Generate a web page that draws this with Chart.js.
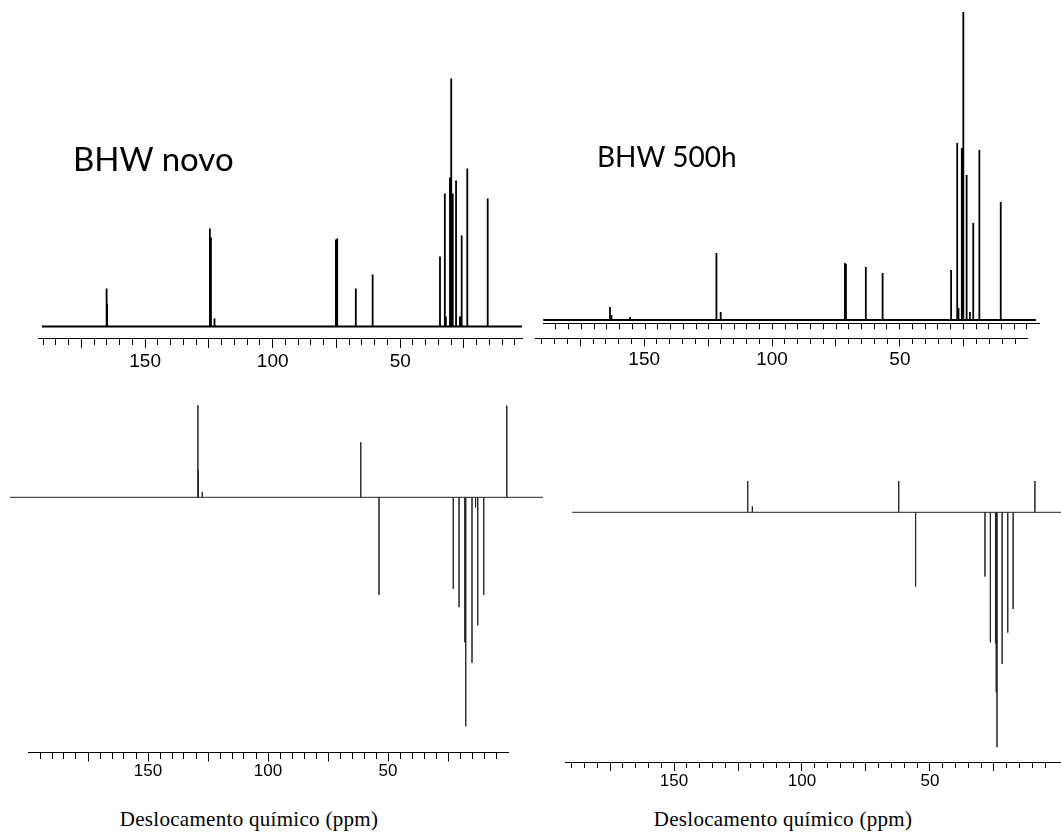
<!DOCTYPE html>
<html>
<head>
<meta charset="utf-8">
<script src="https://cdn.jsdelivr.net/npm/chart.js@4.4.1/dist/chart.umd.min.js"></script>
<style>
html,body{margin:0;padding:0;background:#fff;}
#wrap{position:relative;width:1061px;height:835px;overflow:hidden;background:#fff;}
canvas{position:absolute;}
.lbl{position:absolute;white-space:nowrap;color:#000;line-height:1;}
.name{font-family:Lato,"Open Sans",sans-serif;}
.xt{font-family:"Liberation Serif","Times New Roman",serif;font-size:21px;letter-spacing:0.3px;transform:translate(-50%,-50%);}
</style>
</head>
<body>
<div id="wrap">
  <canvas id="c1" width="540" height="390" style="left:0;top:0"></canvas>
  <canvas id="c2" width="531" height="333" style="left:530px;top:0"></canvas>
  <canvas id="c2b" width="531" height="60" style="left:530px;top:330px"></canvas>
  <canvas id="c3" width="550" height="410" style="left:0;top:380px"></canvas>
  <canvas id="c4" width="511" height="400" style="left:550px;top:400px"></canvas>
  <div class="lbl name" style="left:73px;top:142px;font-size:33px">BHW novo</div>
  <div class="lbl name" style="left:597px;top:142px;font-size:28px">BHW 500h</div>
  <div class="lbl xt" style="left:249px;top:819px">Deslocamento químico (ppm)</div>
  <div class="lbl xt" style="left:783px;top:819px">Deslocamento químico (ppm)</div>
</div>
<script>
// ---- data (chemical shift in ppm, relative intensity) ----
// Top-left: 13C, BHW novo
const NOVO_C13_PPM = [165.1, 164.9, 124.6, 124.2, 122.8, 75.2, 74.7, 67.4, 60.8, 34.4, 32.5, 32.1, 30.5, 30.0, 29.4, 28.1, 26.6, 25.9, 23.7, 15.7];
const NOVO_C13_INT = [38, 23, 98, 89, 8, 87, 88, 38, 52, 70, 133, 10, 149, 248, 133, 146, 10, 91, 158, 128];
// Top-right: 13C, BHW 500h
const H500_C13_PPM = [168.8, 168.2, 160.9, 127.1, 126.9, 125.3, 76.5, 76.1, 68.3, 61.7, 34.8, 32.4, 31.9, 30.6, 30.0, 28.7, 27.4, 26.1, 23.7, 15.3];
const H500_C13_INT = [13, 5, 3, 67, 64, 8, 57, 56, 53, 47, 50, 177, 12, 172, 308, 145, 8, 97, 170, 118];
// Bottom-left: DEPT, BHW novo
const NOVO_DEPT_PPM = [129.2, 129.0, 127.4, 61.4, 61.3, 53.75, 22.8, 20.4, 18.0, 17.6, 15.0, 13.5, 12.6, 10.1, 0.5];
const NOVO_DEPT_INT = [92, 27, 5.5, 55, 17, -97.6, -91.6, -110, -145, -229, -165.6, -10, -128, -97.6, 91.7];
// Bottom-right: DEPT, BHW 500h
const H500_DEPT_PPM = [121.2, 119.4, 62.2, 55.6, 28.5, 26.4, 24.4, 24.1, 23.8, 21.8, 19.6, 17.5, 9.0];
const H500_DEPT_INT = [31.3, 6, 31.3, -74.3, -64.3, -130, -131, -180, -235, -151.7, -120.3, -96.7, 31.3];

const TICK_LABELS = [150, 100, 50];
const MINOR_TICKS = [];
for (let v = 195; v >= 5; v -= 5) MINOR_TICKS.push(v);

// ---- helpers ----
function trace(ppm, inten, from, to) {
  const pts = [{x: from, y: 0}];
  const order = ppm.map((p, i) => i).sort((a, b) => ppm[b] - ppm[a]);
  for (const i of order) {
    pts.push({x: ppm[i], y: 0}, {x: ppm[i], y: inten[i]}, {x: ppm[i], y: 0});
  }
  pts.push({x: to, y: 0});
  return pts;
}

function xAxis(o) {
  return {
    type: 'linear', position: 'bottom', reverse: true, min: o.min, max: o.max,
    afterBuildTicks: s => { s.ticks = MINOR_TICKS.filter(v => v < o.max - 1 && v > o.min).map(v => ({value: v})); },
    afterFit: s => { s.height = o.height; },
    border: {display: true, color: '#000', width: 1},
    grid: {
      display: true, drawOnChartArea: false, drawTicks: true,
      tickLength: o.major, tickWidth: 1, tickColor: '#000',
      tickBorderDash: c => (o.majorEvery && c.tick && c.tick.value % o.majorEvery === 0) ? [] : [o.minor, 200]
    },
    ticks: {
      display: o.labels, autoSkip: false, maxRotation: 0, minRotation: 0, padding: o.pad || 0, color: '#000',
      font: {family: '"Liberation Sans", Arial, Helvetica, sans-serif', size: o.size || 18},
      callback: v => TICK_LABELS.includes(v) ? String(v) : ''
    }
  };
}

function makeChart(id, data, lw, color, pad, xa, ymin, ymax) {
  return new Chart(document.getElementById(id), {
    type: 'line',
    data: {datasets: data ? [{
      data: data, borderColor: color, borderWidth: lw, pointRadius: 0, pointHoverRadius: 0,
      tension: 0, fill: false, clip: false
    }] : []},
    options: {
      responsive: false, maintainAspectRatio: false, animation: false, events: [],
      layout: {padding: pad},
      plugins: {legend: {display: false}, tooltip: {enabled: false}, title: {display: false}},
      scales: {x: xa, y: {display: false, min: ymin, max: ymax}}
    }
  });
}

// Top-left
makeChart('c1', trace(NOVO_C13_PPM, NOVO_C13_INT, 190.5, 2.3), 1.8, '#000',
  {left: 38, right: 18, top: 60, bottom: 0},
  xAxis({min: 2.25, max: 192, height: 52, major: 10, minor: 6, majorEvery: 25, labels: true, size: 19, pad: 2}),
  -11.5, 266.5);

// Top-right (spectrum + upper tick row)
makeChart('c2', trace(H500_C13_PPM, H500_C13_INT, 195, 1.5), 1.8, '#000',
  {left: 13, right: 21.3, top: 5, bottom: 0},
  xAxis({min: 0, max: 195.1, height: 9.7, major: 6, minor: 6, majorEvery: 0, labels: false}),
  -3.3, 315);

// Top-right lower labelled scale
makeChart('c2b', null, 1, '#000',
  {left: 5, right: 33.2, top: 2, bottom: 0},
  xAxis({min: 0, max: 192.7, height: 51.7, major: 8, minor: 5, majorEvery: 25, labels: true, size: 19, pad: 2}),
  0, 1);

// Bottom-left
makeChart('c3', trace(NOVO_DEPT_PPM, NOVO_DEPT_INT, 207.5, -14.6), 1, '#222',
  {left: 28, right: 42, top: 20, bottom: 0},
  xAxis({min: 0, max: 200, height: 37.5, major: 9, minor: 6, majorEvery: 25, labels: true, size: 17, pad: 0}),
  -255.2, 97.3);

// Bottom-right
makeChart('c4', trace(H500_DEPT_PPM, H500_DEPT_INT, 189.8, -1.2), 1, '#222',
  {left: 15, right: 0, top: 70, bottom: 0},
  xAxis({min: -1.2, max: 192.6, height: 38, major: 9, minor: 5, majorEvery: 25, labels: true, size: 17, pad: 0}),
  -249.7, 42.3);
</script>
</body>
</html>
